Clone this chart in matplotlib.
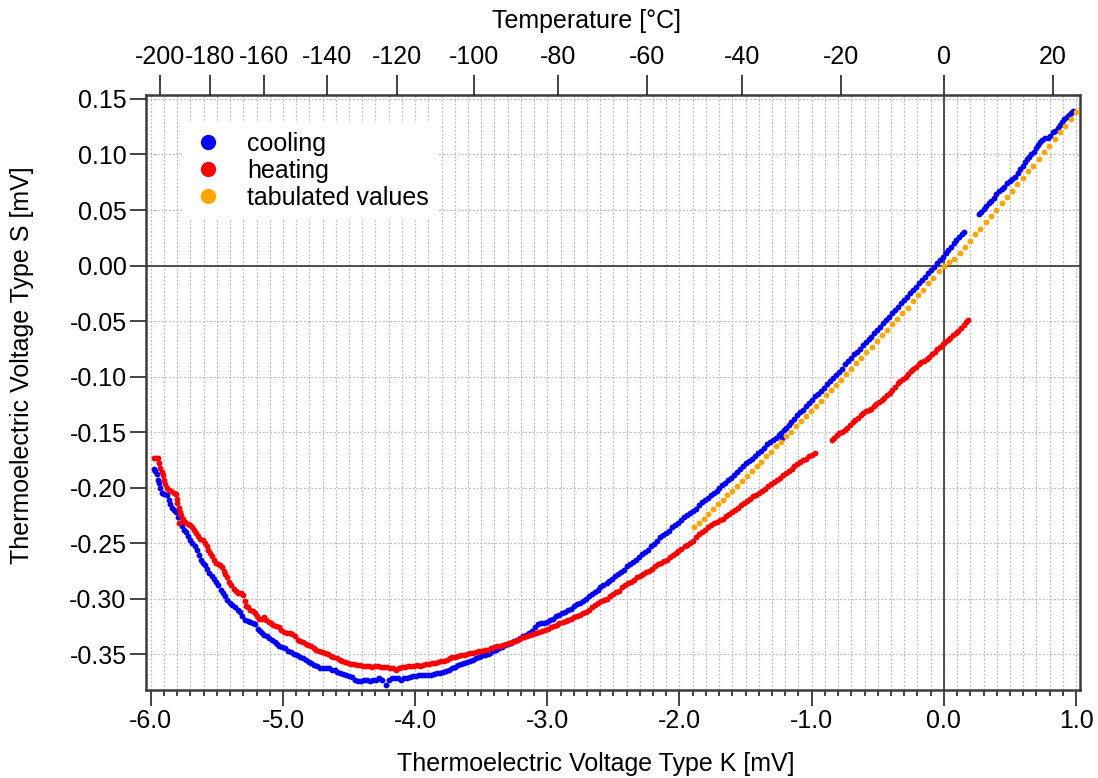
import numpy as np
import matplotlib
matplotlib.use("Agg")
import matplotlib.pyplot as plt
from matplotlib.lines import Line2D
from matplotlib.ticker import MultipleLocator, FormatStrFormatter

plt.rcParams['font.family'] = ['Liberation Sans', 'DejaVu Sans']
plt.rcParams['axes.unicode_minus'] = False

# measured voltage pairs (type K, type S) in mV
cooling = [
    (-5.976, -0.183), (-5.965, -0.185), (-5.955, -0.188), (-5.948, -0.193), (-5.940, -0.196),
    (-5.932, -0.200), (-5.918, -0.205), (-5.900, -0.206), (-5.880, -0.207), (-5.862, -0.211),
    (-5.852, -0.215), (-5.840, -0.218), (-5.826, -0.220), (-5.810, -0.222), (-5.795, -0.227),
    (-5.780, -0.232), (-5.765, -0.235), (-5.748, -0.238), (-5.732, -0.240), (-5.715, -0.244),
    (-5.700, -0.247), (-5.685, -0.250), (-5.668, -0.253), (-5.652, -0.256), (-5.638, -0.261),
    (-5.622, -0.265), (-5.605, -0.268), (-5.588, -0.270), (-5.572, -0.273), (-5.558, -0.277),
    (-5.540, -0.280), (-5.522, -0.282), (-5.505, -0.285), (-5.488, -0.288), (-5.472, -0.292),
    (-5.455, -0.295), (-5.438, -0.298), (-5.420, -0.301), (-5.402, -0.304), (-5.382, -0.306),
    (-5.362, -0.308), (-5.342, -0.310), (-5.325, -0.312), (-5.308, -0.316), (-5.290, -0.319),
    (-5.268, -0.320), (-5.248, -0.321), (-5.228, -0.322), (-5.208, -0.323), (-5.192, -0.327),
    (-5.175, -0.329), (-5.158, -0.331), (-5.140, -0.333), (-5.122, -0.334), (-5.102, -0.336),
    (-5.082, -0.337), (-5.062, -0.339), (-5.045, -0.341), (-5.028, -0.343), (-5.008, -0.344),
    (-4.988, -0.345), (-4.965, -0.347), (-4.942, -0.348), (-4.920, -0.350), (-4.895, -0.351),
    (-4.872, -0.353), (-4.850, -0.354), (-4.828, -0.355), (-4.806, -0.357), (-4.785, -0.358),
    (-4.762, -0.360), (-4.740, -0.361), (-4.720, -0.363), (-4.698, -0.363), (-4.675, -0.363),
    (-4.652, -0.363), (-4.630, -0.364), (-4.610, -0.364), (-4.590, -0.366), (-4.568, -0.367),
    (-4.545, -0.368), (-4.522, -0.369), (-4.500, -0.370), (-4.478, -0.371), (-4.455, -0.373),
    (-4.432, -0.374), (-4.410, -0.374), (-4.388, -0.373), (-4.365, -0.373), (-4.342, -0.374),
    (-4.320, -0.373), (-4.298, -0.373), (-4.275, -0.372), (-4.252, -0.373), (-4.222, -0.378),
    (-4.195, -0.373), (-4.172, -0.372), (-4.150, -0.372), (-4.128, -0.372), (-4.105, -0.373),
    (-4.082, -0.372), (-4.060, -0.372), (-4.038, -0.371), (-4.015, -0.370), (-3.992, -0.370),
    (-3.970, -0.369), (-3.948, -0.369), (-3.925, -0.369), (-3.902, -0.369), (-3.880, -0.369),
    (-3.858, -0.368), (-3.835, -0.367), (-3.812, -0.367), (-3.790, -0.366), (-3.768, -0.365),
    (-3.745, -0.364), (-3.722, -0.363), (-3.700, -0.362), (-3.678, -0.360), (-3.655, -0.359),
    (-3.632, -0.358), (-3.610, -0.357), (-3.588, -0.356), (-3.565, -0.355), (-3.542, -0.354),
    (-3.520, -0.353), (-3.498, -0.352), (-3.475, -0.351), (-3.452, -0.350), (-3.430, -0.349),
    (-3.408, -0.347), (-3.385, -0.346), (-3.362, -0.345), (-3.340, -0.344), (-3.318, -0.342),
    (-3.295, -0.341), (-3.272, -0.340), (-3.250, -0.338), (-3.228, -0.337), (-3.205, -0.336),
    (-3.182, -0.334), (-3.160, -0.333), (-3.138, -0.331), (-3.115, -0.329), (-3.092, -0.326),
    (-3.070, -0.323), (-3.048, -0.322), (-3.025, -0.322), (-3.002, -0.321), (-2.980, -0.319),
    (-2.958, -0.318), (-2.935, -0.316), (-2.912, -0.315), (-2.890, -0.313), (-2.868, -0.312),
    (-2.845, -0.310), (-2.822, -0.309), (-2.800, -0.307), (-2.778, -0.305), (-2.755, -0.304),
    (-2.732, -0.302), (-2.710, -0.300), (-2.688, -0.298), (-2.665, -0.296), (-2.642, -0.294),
    (-2.620, -0.292), (-2.598, -0.290), (-2.575, -0.288), (-2.552, -0.286), (-2.530, -0.284),
    (-2.508, -0.282), (-2.485, -0.280), (-2.462, -0.278), (-2.440, -0.276), (-2.418, -0.274),
    (-2.395, -0.271), (-2.372, -0.269), (-2.350, -0.267), (-2.328, -0.265), (-2.305, -0.263),
    (-2.282, -0.260), (-2.260, -0.258), (-2.238, -0.256), (-2.215, -0.253), (-2.192, -0.251),
    (-2.170, -0.248), (-2.148, -0.245), (-2.125, -0.243), (-2.102, -0.241), (-2.080, -0.239),
    (-2.058, -0.236), (-2.035, -0.234), (-2.012, -0.232), (-1.990, -0.229), (-1.968, -0.227),
    (-1.945, -0.225), (-1.922, -0.223), (-1.900, -0.221), (-1.878, -0.219), (-1.855, -0.216),
    (-1.832, -0.213), (-1.810, -0.211), (-1.788, -0.209), (-1.765, -0.207), (-1.742, -0.205),
    (-1.720, -0.203), (-1.698, -0.200), (-1.675, -0.198), (-1.652, -0.196), (-1.630, -0.193),
    (-1.608, -0.191), (-1.585, -0.189), (-1.562, -0.186), (-1.540, -0.183), (-1.518, -0.181),
    (-1.495, -0.178), (-1.472, -0.176), (-1.450, -0.174), (-1.428, -0.172), (-1.405, -0.169),
    (-1.382, -0.167), (-1.360, -0.164), (-1.338, -0.161), (-1.315, -0.159), (-1.292, -0.157),
    (-1.270, -0.155), (-1.250, -0.153), (-1.235, -0.151), (-1.228, -0.155), (-1.212, -0.148),
    (-1.195, -0.146), (-1.175, -0.144), (-1.155, -0.141), (-1.132, -0.138), (-1.110, -0.135),
    (-1.088, -0.132), (-1.065, -0.130), (-1.042, -0.127), (-1.020, -0.124), (-0.998, -0.121),
    (-0.975, -0.118), (-0.952, -0.116), (-0.930, -0.113), (-0.908, -0.110), (-0.885, -0.107),
    (-0.862, -0.104), (-0.840, -0.101), (-0.818, -0.099), (-0.795, -0.096), (-0.772, -0.093),
    (-0.750, -0.089), (-0.728, -0.086), (-0.705, -0.083), (-0.682, -0.080), (-0.660, -0.078),
    (-0.638, -0.075), (-0.615, -0.072), (-0.592, -0.069), (-0.570, -0.066), (-0.548, -0.064),
    (-0.525, -0.061), (-0.502, -0.058), (-0.480, -0.055), (-0.458, -0.052), (-0.435, -0.049),
    (-0.412, -0.046), (-0.390, -0.043), (-0.368, -0.040), (-0.345, -0.037), (-0.322, -0.034),
    (-0.300, -0.031), (-0.278, -0.028), (-0.255, -0.025), (-0.232, -0.022), (-0.210, -0.019),
    (-0.188, -0.016), (-0.165, -0.013), (-0.142, -0.010), (-0.120, -0.007), (-0.098, -0.004),
    (-0.075, -0.001), (-0.052, 0.002), (-0.030, 0.005), (-0.008, 0.008), (0.015, 0.011),
    (0.035, 0.014), (0.055, 0.017), (0.075, 0.020), (0.095, 0.023), (0.115, 0.026),
    (0.135, 0.028), (0.152, 0.030),
    (0.265, 0.046), (0.282, 0.048), (0.300, 0.051), (0.318, 0.054), (0.338, 0.056),
    (0.358, 0.058), (0.378, 0.061), (0.398, 0.064), (0.418, 0.067), (0.438, 0.069),
    (0.458, 0.071), (0.478, 0.074), (0.498, 0.076), (0.518, 0.078), (0.538, 0.080),
    (0.558, 0.083), (0.578, 0.087), (0.598, 0.090), (0.612, 0.093), (0.628, 0.096),
    (0.642, 0.098), (0.660, 0.100), (0.680, 0.102), (0.700, 0.106), (0.712, 0.109),
    (0.728, 0.111), (0.745, 0.113), (0.765, 0.115), (0.785, 0.115), (0.805, 0.117),
    (0.825, 0.120), (0.842, 0.121), (0.860, 0.124), (0.878, 0.127), (0.895, 0.129),
    (0.912, 0.132), (0.928, 0.134), (0.945, 0.136), (0.960, 0.137), (0.975, 0.139),
]

heating = [
    (-5.976, -0.173), (-5.962, -0.173), (-5.945, -0.173), (-5.935, -0.178), (-5.928, -0.182),
    (-5.918, -0.186), (-5.908, -0.189), (-5.898, -0.193), (-5.890, -0.197), (-5.878, -0.200),
    (-5.862, -0.202), (-5.845, -0.203), (-5.828, -0.205), (-5.812, -0.206), (-5.805, -0.210),
    (-5.798, -0.214), (-5.790, -0.218), (-5.782, -0.222), (-5.788, -0.232), (-5.770, -0.225),
    (-5.755, -0.228), (-5.740, -0.231), (-5.722, -0.233), (-5.705, -0.234), (-5.690, -0.236),
    (-5.675, -0.238), (-5.658, -0.241), (-5.642, -0.244), (-5.625, -0.246), (-5.608, -0.247),
    (-5.592, -0.250), (-5.578, -0.253), (-5.565, -0.256), (-5.552, -0.259), (-5.540, -0.262),
    (-5.525, -0.265), (-5.510, -0.268), (-5.495, -0.269), (-5.478, -0.270), (-5.462, -0.272),
    (-5.448, -0.275), (-5.435, -0.278), (-5.420, -0.281), (-5.405, -0.285), (-5.390, -0.288),
    (-5.372, -0.291), (-5.355, -0.293), (-5.338, -0.295), (-5.318, -0.295), (-5.300, -0.297),
    (-5.288, -0.302), (-5.282, -0.307), (-5.265, -0.308), (-5.248, -0.310), (-5.230, -0.311),
    (-5.212, -0.313), (-5.195, -0.316), (-5.178, -0.318), (-5.160, -0.318), (-5.142, -0.317),
    (-5.125, -0.319), (-5.108, -0.321), (-5.090, -0.322), (-5.072, -0.324), (-5.052, -0.325),
    (-5.032, -0.326), (-5.012, -0.328), (-4.992, -0.330), (-4.970, -0.331), (-4.950, -0.331),
    (-4.930, -0.332), (-4.910, -0.334), (-4.890, -0.337), (-4.868, -0.338), (-4.848, -0.339),
    (-4.828, -0.341), (-4.808, -0.342), (-4.788, -0.343), (-4.768, -0.345), (-4.748, -0.346),
    (-4.728, -0.347), (-4.706, -0.348), (-4.685, -0.349), (-4.662, -0.350), (-4.640, -0.352),
    (-4.618, -0.353), (-4.595, -0.354), (-4.572, -0.355), (-4.550, -0.356), (-4.528, -0.357),
    (-4.505, -0.358), (-4.482, -0.359), (-4.460, -0.359), (-4.438, -0.360), (-4.415, -0.360),
    (-4.392, -0.361), (-4.370, -0.361), (-4.348, -0.361), (-4.325, -0.362), (-4.302, -0.361),
    (-4.280, -0.361), (-4.258, -0.362), (-4.235, -0.362), (-4.212, -0.362), (-4.190, -0.363),
    (-4.168, -0.363), (-4.145, -0.364), (-4.122, -0.363), (-4.100, -0.362), (-4.078, -0.362),
    (-4.055, -0.361), (-4.032, -0.361), (-4.010, -0.361), (-3.988, -0.360), (-3.965, -0.361),
    (-3.942, -0.360), (-3.920, -0.359), (-3.898, -0.359), (-3.875, -0.358), (-3.852, -0.358),
    (-3.830, -0.357), (-3.808, -0.356), (-3.785, -0.356), (-3.762, -0.355), (-3.740, -0.354),
    (-3.718, -0.353), (-3.695, -0.353), (-3.672, -0.352), (-3.650, -0.351), (-3.628, -0.351),
    (-3.605, -0.350), (-3.582, -0.349), (-3.560, -0.349), (-3.538, -0.348), (-3.515, -0.347),
    (-3.492, -0.347), (-3.470, -0.346), (-3.448, -0.346), (-3.425, -0.345), (-3.402, -0.344),
    (-3.380, -0.343), (-3.358, -0.343), (-3.335, -0.342), (-3.312, -0.341), (-3.290, -0.340),
    (-3.268, -0.339), (-3.245, -0.338), (-3.222, -0.337), (-3.200, -0.336), (-3.178, -0.335),
    (-3.155, -0.334), (-3.132, -0.333), (-3.110, -0.332), (-3.088, -0.331), (-3.065, -0.330),
    (-3.042, -0.329), (-3.020, -0.328), (-2.998, -0.327), (-2.975, -0.326), (-2.952, -0.325),
    (-2.930, -0.324), (-2.908, -0.322), (-2.885, -0.321), (-2.862, -0.320), (-2.840, -0.319),
    (-2.818, -0.318), (-2.795, -0.317), (-2.772, -0.316), (-2.750, -0.315), (-2.728, -0.313),
    (-2.705, -0.312), (-2.682, -0.310), (-2.660, -0.308), (-2.638, -0.306), (-2.615, -0.304),
    (-2.592, -0.302), (-2.570, -0.301), (-2.548, -0.300), (-2.525, -0.298), (-2.502, -0.296),
    (-2.480, -0.294), (-2.458, -0.293), (-2.435, -0.290), (-2.412, -0.288), (-2.390, -0.286),
    (-2.368, -0.285), (-2.345, -0.283), (-2.322, -0.281), (-2.300, -0.280), (-2.278, -0.278),
    (-2.255, -0.276), (-2.232, -0.275), (-2.210, -0.273), (-2.188, -0.271), (-2.165, -0.269),
    (-2.142, -0.268), (-2.120, -0.266), (-2.098, -0.265), (-2.075, -0.263), (-2.052, -0.261),
    (-2.030, -0.259), (-2.008, -0.257), (-1.985, -0.255), (-1.962, -0.253), (-1.940, -0.252),
    (-1.918, -0.250), (-1.895, -0.248), (-1.872, -0.245), (-1.850, -0.242), (-1.828, -0.240),
    (-1.805, -0.238), (-1.782, -0.236), (-1.760, -0.234), (-1.738, -0.232), (-1.715, -0.231),
    (-1.692, -0.229), (-1.670, -0.228), (-1.648, -0.226), (-1.625, -0.224), (-1.602, -0.222),
    (-1.580, -0.220), (-1.558, -0.218), (-1.535, -0.216), (-1.512, -0.214), (-1.490, -0.212),
    (-1.468, -0.210), (-1.445, -0.208), (-1.422, -0.207), (-1.400, -0.205), (-1.378, -0.203),
    (-1.355, -0.201), (-1.332, -0.199), (-1.310, -0.197), (-1.288, -0.195), (-1.265, -0.193),
    (-1.242, -0.191), (-1.220, -0.189), (-1.198, -0.187), (-1.175, -0.185), (-1.152, -0.183),
    (-1.130, -0.181), (-1.108, -0.179), (-1.085, -0.177), (-1.062, -0.175), (-1.040, -0.174),
    (-1.018, -0.172), (-0.995, -0.171), (-0.972, -0.169),
    (-0.850, -0.157), (-0.830, -0.155), (-0.810, -0.153), (-0.790, -0.151), (-0.770, -0.150),
    (-0.750, -0.148), (-0.730, -0.146), (-0.710, -0.144), (-0.690, -0.141), (-0.670, -0.139),
    (-0.650, -0.137), (-0.630, -0.135), (-0.610, -0.133), (-0.590, -0.131), (-0.570, -0.130),
    (-0.550, -0.129), (-0.530, -0.127), (-0.510, -0.125), (-0.490, -0.123), (-0.470, -0.121),
    (-0.450, -0.119), (-0.430, -0.117), (-0.410, -0.115), (-0.390, -0.112), (-0.370, -0.109),
    (-0.350, -0.106), (-0.330, -0.104), (-0.310, -0.102), (-0.290, -0.100), (-0.270, -0.098),
    (-0.250, -0.095), (-0.230, -0.093), (-0.210, -0.091), (-0.190, -0.089), (-0.170, -0.087),
    (-0.150, -0.086), (-0.130, -0.084), (-0.110, -0.082), (-0.090, -0.080), (-0.070, -0.078),
    (-0.050, -0.075), (-0.030, -0.073), (-0.010, -0.071), (0.010, -0.069), (0.030, -0.067),
    (0.050, -0.065), (0.070, -0.063), (0.090, -0.061), (0.110, -0.059), (0.130, -0.056),
    (0.150, -0.054), (0.168, -0.051), (0.184, -0.049),
]

# tabulated reference values, -50 .. 25 degC in 1 degC steps
tab_type_k = [
    -1.889, -1.854, -1.818, -1.782, -1.745, -1.709, -1.673, -1.637, -1.600, -1.564,
    -1.527, -1.490, -1.453, -1.417, -1.380, -1.343, -1.305, -1.268, -1.231, -1.194,
    -1.156, -1.119, -1.081, -1.043, -1.006, -0.968, -0.930, -0.892, -0.854, -0.816,
    -0.778, -0.739, -0.701, -0.663, -0.624, -0.586, -0.547, -0.508, -0.470, -0.431,
    -0.392, -0.353, -0.314, -0.275, -0.236, -0.197, -0.157, -0.118, -0.079, -0.039,
    0.000, 0.039, 0.079, 0.119, 0.158, 0.198, 0.238, 0.277, 0.317, 0.357,
    0.397, 0.437, 0.477, 0.517, 0.557, 0.597, 0.637, 0.677, 0.718, 0.758,
    0.798, 0.838, 0.879, 0.919, 0.960, 1.000,
]
tab_type_s = [
    -0.236, -0.232, -0.228, -0.224, -0.219, -0.215, -0.211, -0.207, -0.203, -0.199,
    -0.194, -0.190, -0.185, -0.181, -0.177, -0.172, -0.168, -0.163, -0.159, -0.154,
    -0.150, -0.145, -0.140, -0.136, -0.131, -0.127, -0.122, -0.117, -0.112, -0.108,
    -0.103, -0.098, -0.093, -0.088, -0.083, -0.078, -0.073, -0.068, -0.063, -0.058,
    -0.053, -0.048, -0.043, -0.038, -0.032, -0.027, -0.022, -0.016, -0.011, -0.005,
    0.000, 0.003, 0.006, 0.011, 0.017, 0.022, 0.028, 0.033, 0.039, 0.045,
    0.050, 0.056, 0.062, 0.067, 0.073, 0.079, 0.085, 0.090, 0.096, 0.102,
    0.108, 0.114, 0.120, 0.126, 0.132, 0.138,
]

# temperature axis: labels and their type K voltage
temp_labels = [-200, -180, -160, -140, -120, -100, -80, -60, -40, -20, 0, 20]
temp_mv = [-5.93, -5.550, -5.141, -4.669, -4.138, -3.554, -2.920, -2.243, -1.527, -0.778, 0.0, 0.825]

BLUE = '#0000ff'
RED = '#ff0000'
ORANGE = '#ffa500'
FRAME = '#3c3c3c'
FS = 18

cool = np.array(cooling).T
heat = np.array(heating).T

fig = plt.figure(figsize=(10.98, 7.78), dpi=100)
ax = fig.add_axes([0.133, 0.1131, 0.8506, 0.7648])

ax.plot(cool[0], cool[1], 'o', ms=4.2, mec='none', color=BLUE, zorder=3)
ax.plot(heat[0], heat[1], 'o', ms=4.2, mec='none', color=RED, zorder=3)
ax.plot(tab_type_k, tab_type_s, 'o', ms=4.2, mec='none', color=ORANGE, zorder=4)

ax.axhline(0, color='#333333', lw=1.2, zorder=2)
ax.axvline(0, color='#333333', lw=1.2, zorder=2)

ax.set_xlim(-6.036, 1.03)
ax.set_ylim(-0.3824, 0.1536)

ax.xaxis.set_major_locator(MultipleLocator(1.0))
ax.xaxis.set_minor_locator(MultipleLocator(0.1))
ax.yaxis.set_major_locator(MultipleLocator(0.05))
ax.yaxis.set_minor_locator(MultipleLocator(0.01))
ax.xaxis.set_major_formatter(FormatStrFormatter('%.1f'))
ax.yaxis.set_major_formatter(FormatStrFormatter('%.2f'))

ax.grid(which='both', color='#bcbcbc', ls=(0, (1.5, 1.5)), lw=0.9, zorder=0)
ax.set_axisbelow(True)

ax.tick_params(axis='both', which='major', direction='out', width=1.2,
               color='#222222', labelsize=FS, length=11.5, pad=2.5)
ax.tick_params(axis='x', which='minor', direction='out', width=1.2, color='#222222', length=4.5)
ax.tick_params(axis='y', which='minor', direction='out', width=1.2, color='#222222', length=6.5)

for sp in ax.spines.values():
    sp.set_color(FRAME)
    sp.set_linewidth(1.8)

ax.set_xlabel('Thermoelectric Voltage Type K [mV]', fontsize=FS)
ax.set_ylabel('Thermoelectric Voltage Type S [mV]', fontsize=FS)
ax.xaxis.set_label_coords(0.481, -0.105)
ax.yaxis.set_label_coords(-0.12, 0.546)

# temperature scale on top
top = ax.twiny()
top.set_xlim(ax.get_xlim())
top.set_xticks(temp_mv)
top.set_xticklabels([str(t) for t in temp_labels])
top.tick_params(axis='x', which='major', direction='out', length=14.5, width=1.2,
                color='#222222', labelsize=FS, pad=4)
top.minorticks_off()
top.set_xlabel('Temperature [°C]', fontsize=FS)
top.xaxis.set_label_coords(0.472, 1.112)
for sp in top.spines.values():
    sp.set_visible(False)

handles = [
    Line2D([], [], ls='none', marker='o', ms=11, mec='none', color=BLUE),
    Line2D([], [], ls='none', marker='o', ms=11, mec='none', color=RED),
    Line2D([], [], ls='none', marker='o', ms=11, mec='none', color=ORANGE),
]
leg = ax.legend(handles, ['cooling', 'heating', 'tabulated values'],
                loc='upper left', bbox_to_anchor=(0.0396, 0.953), borderaxespad=0,
                fontsize=FS, frameon=True, fancybox=False, framealpha=1.0,
                edgecolor='none', handletextpad=0.9, labelspacing=0.12,
                borderpad=0.35, handlelength=1.3)
leg.set_zorder(5)

fig.savefig('out.png', dpi=100)
